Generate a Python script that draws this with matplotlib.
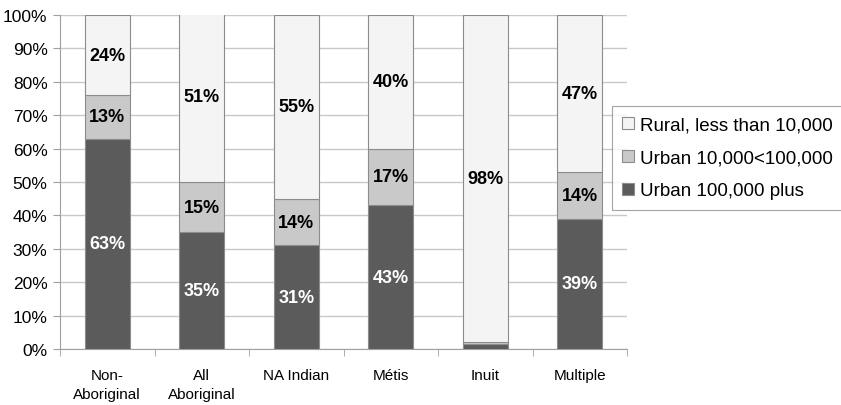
import numpy as np
import matplotlib
matplotlib.use('Agg')
import matplotlib.pyplot as plt
from matplotlib.ticker import FixedLocator, PercentFormatter

plt.rcParams['font.family'] = ['Liberation Sans', 'DejaVu Sans']

groups = ["Non-\nAboriginal", "All\nAboriginal", "NA Indian", "Métis", "Inuit", "Multiple"]
urban_large = [63, 35, 31, 43, 1.5, 39]
urban_mid = [13, 15, 14, 17, 0.5, 14]
rural = [24, 51, 55, 40, 98, 47]

series = [
    ("Urban 100,000 plus", urban_large, '#5b5b5b', 'white'),
    ("Urban 10,000<100,000", urban_mid, '#c9c9c9', 'black'),
    ("Rural, less than 10,000", rural, '#f4f4f4', 'black'),
]

fig = plt.figure(figsize=(8.41, 4.06), dpi=100)
ax = fig.add_axes([60 / 841, 56 / 406, 567 / 841, 334 / 406])

x = np.arange(len(groups))
bottom = np.zeros(len(groups))
handles = []
for name, vals, color, txt_color in series:
    vals = np.array(vals, dtype=float)
    bars = ax.bar(x, vals, width=0.476, bottom=bottom, color=color,
                  edgecolor='#8c8c8c', linewidth=0.8, label=name, zorder=3)
    handles.append(bars)
    for xi, b, v in zip(x, bottom, vals):
        if v >= 5:
            ax.text(xi, b + v / 2, f"{v:.0f}%", ha='center', va='center',
                    fontsize=13, fontweight='bold', color=txt_color, zorder=4)
    bottom += vals

ax.set_xlim(-0.5, len(groups) - 0.5)
ax.set_ylim(0, 100)
ax.set_yticks(np.arange(0, 101, 10))
ax.yaxis.set_major_formatter(PercentFormatter(decimals=0))
ax.grid(axis='y', color='#c8c8c8', linewidth=1, zorder=0)

ax.set_xticks(x)
ax.set_xticklabels(groups, fontsize=11, linespacing=1.45)
ax.xaxis.set_minor_locator(FixedLocator(np.arange(-0.5, len(groups), 1)))
ax.tick_params(axis='x', which='major', length=0, pad=14)
ax.tick_params(axis='x', which='minor', length=5, color='#a0a0a0')
ax.tick_params(axis='y', length=5, color='#a0a0a0', labelsize=12.5, pad=4)

for side in ('top', 'right'):
    ax.spines[side].set_visible(False)
for side in ('left', 'bottom'):
    ax.spines[side].set_color('#a0a0a0')

leg = ax.legend(handles[::-1], [s[0] for s in series[::-1]],
                loc='upper left', bbox_to_anchor=(612 / 841, 1 - 107 / 406),
                bbox_transform=fig.transFigure, fontsize=13.5,
                frameon=True, fancybox=False, edgecolor='#8c8c8c',
                handlelength=0.6, handleheight=0.6, handletextpad=0.35,
                labelspacing=0.85, borderpad=0.55, borderaxespad=0)
leg.get_frame().set_linewidth(0.8)
leg.set_zorder(10)

fig.savefig('out.png', dpi=100)
